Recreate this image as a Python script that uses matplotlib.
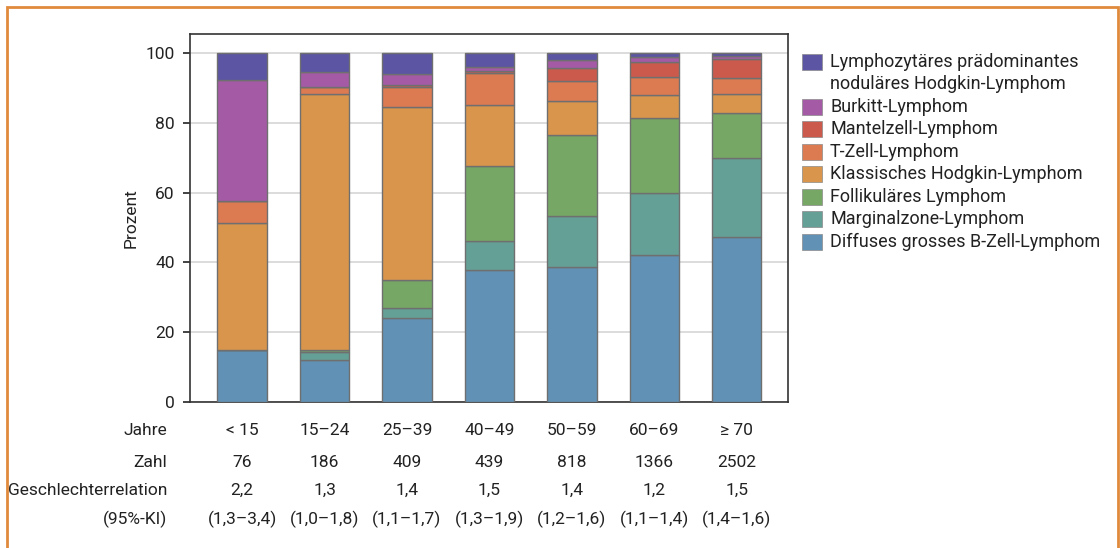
import matplotlib.pyplot as plt
import numpy as np
from matplotlib.patches import Rectangle
from matplotlib.transforms import blended_transform_factory

plt.rcParams['font.family'] = ['Roboto', 'DejaVu Sans']

# Daten
jahre = ["< 15", "15–24", "25–39", "40–49", "50–59", "60–69", "≥ 70"]
zahl = ["76", "186", "409", "439", "818", "1366", "2502"]
relation = ["2,2", "1,3", "1,4", "1,5", "1,4", "1,2", "1,5"]
ki = ["(1,3–3,4)", "(1,0–1,8)", "(1,1–1,7)", "(1,3–1,9)", "(1,2–1,6)", "(1,1–1,4)", "(1,4–1,6)"]

dlbcl = [15.0, 11.9, 24.0, 37.9, 38.6, 42.2, 47.4]
mzl = [0.0, 2.4, 3.0, 8.1, 14.8, 17.7, 22.5]
fl = [0.0, 0.5, 8.0, 21.7, 23.1, 21.3, 13.0]
chl = [36.2, 73.4, 49.6, 17.3, 9.7, 6.8, 5.3]
tzell = [6.5, 1.9, 5.5, 9.1, 5.6, 5.1, 4.6]
mantel = [0.0, 0.0, 0.7, 0.8, 4.0, 4.4, 5.4]
burkitt = [34.4, 4.5, 3.1, 1.1, 2.2, 1.2, 0.9]
nlphl = [7.9, 5.4, 6.1, 4.0, 2.0, 1.3, 0.9]

serien = [dlbcl, mzl, fl, chl, tzell, mantel, burkitt, nlphl]
namen = ["Diffuses grosses B-Zell-Lymphom", "Marginalzone-Lymphom",
         "Follikuläres Lymphom", "Klassisches Hodgkin-Lymphom",
         "T-Zell-Lymphom", "Mantelzell-Lymphom", "Burkitt-Lymphom",
         "Lymphozytäres prädominantes\nnoduläres Hodgkin-Lymphom"]
farben = ["#6192b6", "#64a095", "#76a765", "#d9954b",
          "#dc7a52", "#cc5a4c", "#a55aa5", "#5b55a4"]

fig = plt.figure(figsize=(11.2, 5.48), dpi=100)
ax = fig.add_axes([190/1120, 1 - 402/548, 598/1120, 368/548])

x = np.arange(len(jahre))
unten = np.zeros(len(jahre))
for werte, farbe in zip(serien, farben):
    ax.bar(x, werte, bottom=unten, width=0.6, color=farbe,
           edgecolor="#6f6f6f", linewidth=1.0, zorder=3)
    unten += np.array(werte)

ax.set_xlim(-0.633, 6.623)
ax.set_ylim(0, 105.4)
ax.set_yticks([0, 20, 40, 60, 80, 100])
ax.yaxis.grid(True, color="#d9d9d9", linewidth=1.3, zorder=0)
ax.set_axisbelow(True)
ax.set_xticks([])
ax.tick_params(axis="y", length=5, width=1.2, pad=6, labelsize=12.5, colors="#222222")
for s in ax.spines.values():
    s.set_color("#333333")
    s.set_linewidth(1.2)
ax.set_ylabel("Prozent", fontsize=12.5, color="#222222", labelpad=5)

# Tabelle unter den Balken
trans = blended_transform_factory(ax.transData, ax.transAxes)
zeilen = [("Jahre", jahre, -0.0761), ("Zahl", zahl, -0.165),
          ("Geschlechterrelation", relation, -0.241), ("(95%-KI)", ki, -0.318)]
for titel, werte, yy in zeilen:
    ax.text(-0.0385, yy, titel, transform=ax.transAxes, ha="right", va="center",
            fontsize=12.5, color="#222222")
    for xi, w in zip(x, werte):
        ax.text(xi, yy, w, transform=trans, ha="center", va="center",
                fontsize=12.5, color="#222222")

# Legende
y_px = 61.7
for name, farbe in zip(namen[::-1], farben[::-1]):
    fig.patches.append(Rectangle((802/1120, 1 - (y_px + 8)/548), 20/1120, 16/548,
                                 transform=fig.transFigure, facecolor=farbe,
                                 edgecolor="#8a8a8a", linewidth=0.5))
    zeilen_txt = name.split("\n")
    for k, t in enumerate(zeilen_txt):
        fig.text(830/1120, 1 - (y_px + 22.5*k)/548, t, ha="left", va="center",
                 fontsize=13, color="#222222")
    y_px += 22.5 * len(zeilen_txt)

# Rahmen
fig.patches.append(Rectangle((7/1120, -0.05), 1111/1120, 1.05 - 6.5/548,
                             transform=fig.transFigure, fill=False,
                             edgecolor="#e08a3c", linewidth=2))

fig.savefig("out.png", dpi=100)
